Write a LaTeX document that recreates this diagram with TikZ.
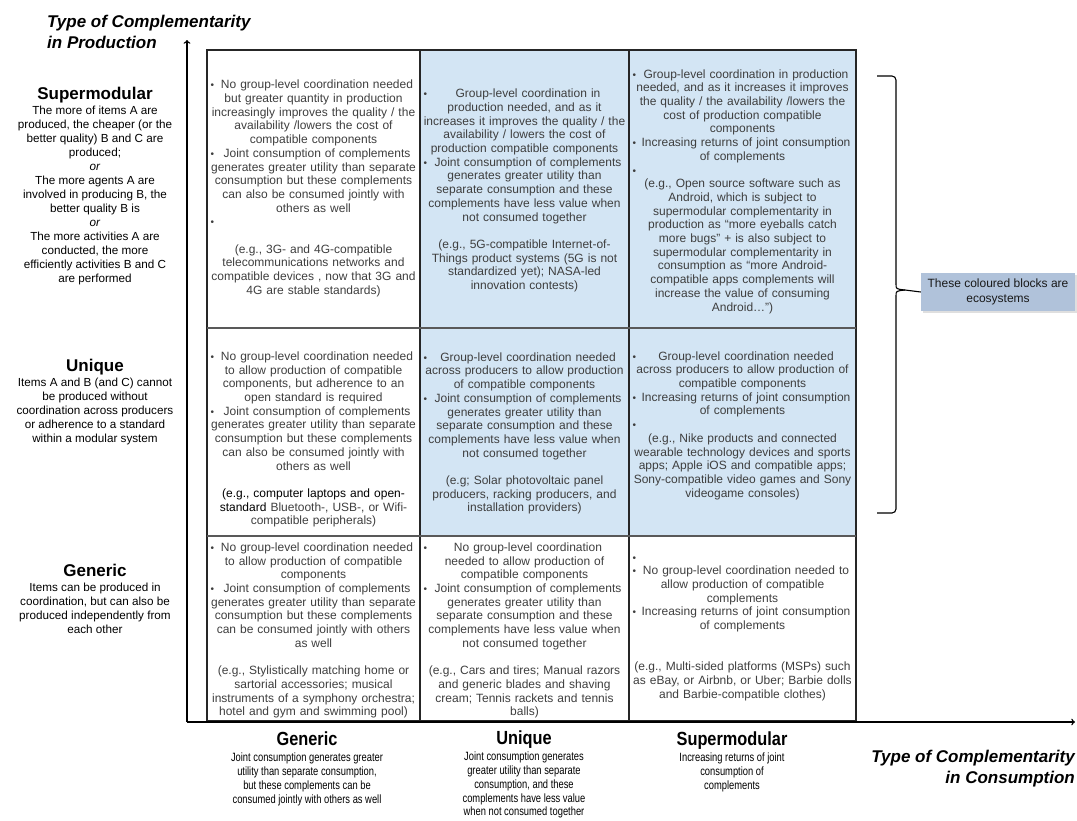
\documentclass[tikz,border=0pt]{standalone}
\usepackage{fontspec}
\setmainfont{Liberation Sans}
\newfontfamily\narrowfont[FakeStretch=0.78]{Liberation Sans}
\newfontfamily\narrowhead[FakeStretch=0.86]{Liberation Sans}
\usepackage{tikz}
\usetikzlibrary{positioning, shadows, arrows}

\definecolor{ecoblue}{RGB}{211,229,244}
\definecolor{notefill}{RGB}{176,194,218}
\definecolor{celltext}{RGB}{62,62,62}

\newcommand{\cellfont}{\fontsize{12}{13.7}\selectfont\parindent=0pt\parskip=0pt}
\newcommand{\bul}{\par\noindent\makebox[\hsize][l]{\fontsize{10}{10}\selectfont\textbullet}\par\vspace{-\baselineskip}\noindent\hspace*{7pt}\ignorespaces}
\newcommand{\ebul}{\par\noindent\makebox[\hsize][l]{\fontsize{10}{10}\selectfont\textbullet}\par}
\newcommand{\blank}{\par\mbox{}\par}

\begin{document}
\begin{tikzpicture}[x=1pt, y=-1pt,
    cell/.style={align=center, inner sep=0pt, text=celltext, font=\cellfont}, % Text inside the grid
    rowhead/.style={inner sep=0pt, text height=13pt, text depth=4pt, font=\fontsize{17}{20}\selectfont\bfseries}, % Production headings
    rowtext/.style={align=center, inner sep=0pt, font=\fontsize{11.7}{14}\selectfont}, % Production descriptions
    colhead/.style={inner sep=0pt, text height=13pt, text depth=4pt, font=\narrowhead\bfseries\fontsize{19}{20}\selectfont}, % Consumption headings
    coltext/.style={align=center, inner sep=0pt, font=\narrowfont\fontsize{12}{13.8}\selectfont}, % Consumption descriptions
    axislabel/.style={inner sep=0pt, font=\fontsize{17}{21}\selectfont\bfseries\itshape}, % Axis titles
    gridline/.style={line width=1.3pt, black!85},
    axis/.style={->, >=to, line width=1.4pt},
    bracket/.style={line width=1.1pt},
    note/.style={fill=notefill, drop shadow={shadow xshift=1.5pt, shadow yshift=-1.5pt, opacity=0.25}, minimum width=154pt, minimum height=38pt, inner sep=0pt, align=center, text=black!90, font=\fontsize{12}{15}\selectfont}
    ]
    \useasboundingbox (0,0) rectangle (1077,820);

    % ecosystems and grid
    \fill[ecoblue] (420,50) rectangle (856,536);
    \draw[gridline] (207,50) rectangle (856,721);
    \draw[gridline] (420,50) -- (420,721);
    \draw[gridline] (629,50) -- (629,721);
    \draw[gridline, black!65] (207,328) -- (856,328);
    \draw[gridline, black!65] (207,536) -- (856,536);

    % axes
    \coordinate (origin) at (187,722);
    \coordinate (ytop) at (187,40);
    \coordinate (xend) at (1075,722);
    \draw[axis] (origin) -- (ytop);
    \draw[axis] (origin) -- (xend);

    \node[axislabel, align=left, anchor=north west] (prodlabel) at (47,15) {Type of Complementarity\\in Production};
    \node[axislabel, align=right, anchor=north east] (conslabel) at (1075,750) {Type of Complementarity\\in Consumption};

    % supermodular production
    \node[cell, text width=206pt] (supGen) at (313.5,186) {
        \bul No group-level coordination needed\\ but greater quantity in production\\ increasingly improves the quality / the\\ availability /lowers the cost of\\ compatible components
        \bul Joint consumption of complements\\ generates greater utility than separate\\ consumption but these complements\\ can also be consumed jointly with\\ others as well
        \ebul
        \blank
        (e.g., 3G- and 4G-compatible\\ telecommunications networks and\\ compatible devices , now that 3G and\\ 4G are stable standards)};
    \node[cell, text width=202pt] (supUni) at (524.5,188) {
        \bul Group-level coordination in\\ production needed, and as it\\ increases it improves the quality / the\\ availability / lowers the cost of\\ production compatible components
        \bul Joint consumption of complements\\ generates greater utility than\\ separate consumption and these\\ complements have less value when\\ not consumed together
        \blank
        (e.g., 5G-compatible Internet-of-\\ Things product systems (5G is not\\ standardized yet); NASA-led\\ innovation contests)};
    \node[cell, text width=220pt] (supSup) at (742.5,189) {
        \bul Group-level coordination in production\\ needed, and as it increases it improves\\ the quality / the availability /lowers the\\ cost of production compatible\\ components
        \bul Increasing returns of joint consumption\\ of complements
        \ebul
        (e.g., Open source software such as\\ Android, which is subject to\\ supermodular complementarity in\\ production as “more eyeballs catch\\ more bugs” + is also subject to\\ supermodular complementarity in\\ consumption as “more Android-\\ compatible apps complements will\\ increase the value of consuming\\ Android…”)};

    % unique production
    \node[cell, text width=206pt] (uniGen) at (313.5,437) {
        \bul No group-level coordination needed\\ to allow production of compatible\\ components, but adherence to an\\ open standard is required
        \bul Joint consumption of complements\\ generates greater utility than separate\\ consumption but these complements\\ can also be consumed jointly with\\ others as well
        \blank
        {\color{black}(e.g., computer laptops and open-\\ standard} Bluetooth-, USB-, or Wifi-\\ compatible peripherals)};
    \node[cell, text width=202pt] (uniUni) at (524.5,431) {
        \bul Group-level coordination needed\\ across producers to allow production\\ of compatible components
        \bul Joint consumption of complements\\ generates greater utility than\\ separate consumption and these\\ complements have less value when\\ not consumed together
        \blank
        (e.g; Solar photovoltaic panel\\ producers, racking producers, and\\ installation providers)};
    \node[cell, text width=220pt] (uniSup) at (742.5,423) {
        \bul Group-level coordination needed\\ across producers to allow production of\\ compatible components
        \bul Increasing returns of joint consumption\\ of complements
        \ebul
        (e.g., Nike products and connected\\ wearable technology devices and sports\\ apps; Apple iOS and compatible apps;\\ Sony-compatible video games and Sony\\ videogame consoles)};

    % generic production
    \node[cell, text width=206pt] (genGen) at (313.5,628) {
        \bul No group-level coordination needed\\ to allow production of compatible\\ components
        \bul Joint consumption of complements\\ generates greater utility than separate\\ consumption but these complements\\ can be consumed jointly with others\\ as well
        \blank
        (e.g., Stylistically matching home or\\ sartorial accessories; musical\\ instruments of a symphony orchestra;\\ hotel and gym and swimming pool)};
    \node[cell, text width=202pt] (genUni) at (524.5,628) {
        \bul No group-level coordination\\ needed to allow production of\\ compatible components
        \bul Joint consumption of complements\\ generates greater utility than\\ separate consumption and these\\ complements have less value when\\ not consumed together
        \blank
        (e.g., Cars and tires; Manual razors\\ and generic blades and shaving\\ cream; Tennis rackets and tennis\\ balls)};
    \node[cell, text width=220pt] (genSup) at (742.5,624) {
        \ebul
        \bul No group-level coordination needed to\\ allow production of compatible\\ complements
        \bul Increasing returns of joint consumption\\ of complements
        \blank\blank
        (e.g., Multi-sided platforms (MSPs) such\\ as eBay, or Airbnb, or Uber; Barbie dolls\\ and Barbie-compatible clothes)};

    % production types
    \node[rowhead] (pSup) at (95,95) {Supermodular};
    \node[rowtext, below=2pt of pSup] (pSupTxt) {The more of items A are\\ produced, the cheaper (or the\\ better quality) B and C are\\ produced;\\ \textit{or}\\ The more agents A are\\ involved in producing B, the\\ better quality B is\\ \textit{or}\\ The more activities A are\\ conducted, the more\\ efficiently activities B and C\\ are performed};
    \node[rowhead] (pUni) at (95,367) {Unique};
    \node[rowtext, below=2pt of pUni] (pUniTxt) {Items A and B (and C) cannot\\ be produced without\\ coordination across producers\\ or adherence to a standard\\ within a modular system};
    \node[rowhead] (pGen) at (95,572) {Generic};
    \node[rowtext, below=2pt of pGen] (pGenTxt) {Items can be produced in\\ coordination, but can also be\\ produced independently from\\ each other};

    % consumption types
    \node[colhead] (cGen) at (307,741) {Generic};
    \node[coltext, below=3pt of cGen] (cGenTxt) {Joint consumption generates greater\\ utility than separate consumption,\\ but these complements can be\\ consumed jointly with others as well};
    \node[colhead] (cUni) at (524,740) {Unique};
    \node[coltext, below=3pt of cUni] (cUniTxt) {Joint consumption generates\\ greater utility than separate\\ consumption, and these\\ complements have less value\\ when not consumed together};
    \node[colhead] (cSup) at (732,741) {Supermodular};
    \node[coltext, below=3pt of cSup] (cSupTxt) {Increasing returns of joint\\ consumption of\\ complements};

    % bracket and note
    \node[note] (note) at (998,292) {These coloured blocks are\\ ecosystems};
    \coordinate (tip) at (905,290);
    \draw[bracket, rounded corners=4pt] (877,76) -| (896,284);
    \draw[bracket] (896,284) .. controls (896,289) .. (tip);
    \draw[bracket] (896,296) .. controls (896,291) .. (tip);
    \draw[bracket, rounded corners=4pt] (896,296) |- (877,513);
    \draw[bracket] (tip) -- (note.west);
\end{tikzpicture}
\end{document}
